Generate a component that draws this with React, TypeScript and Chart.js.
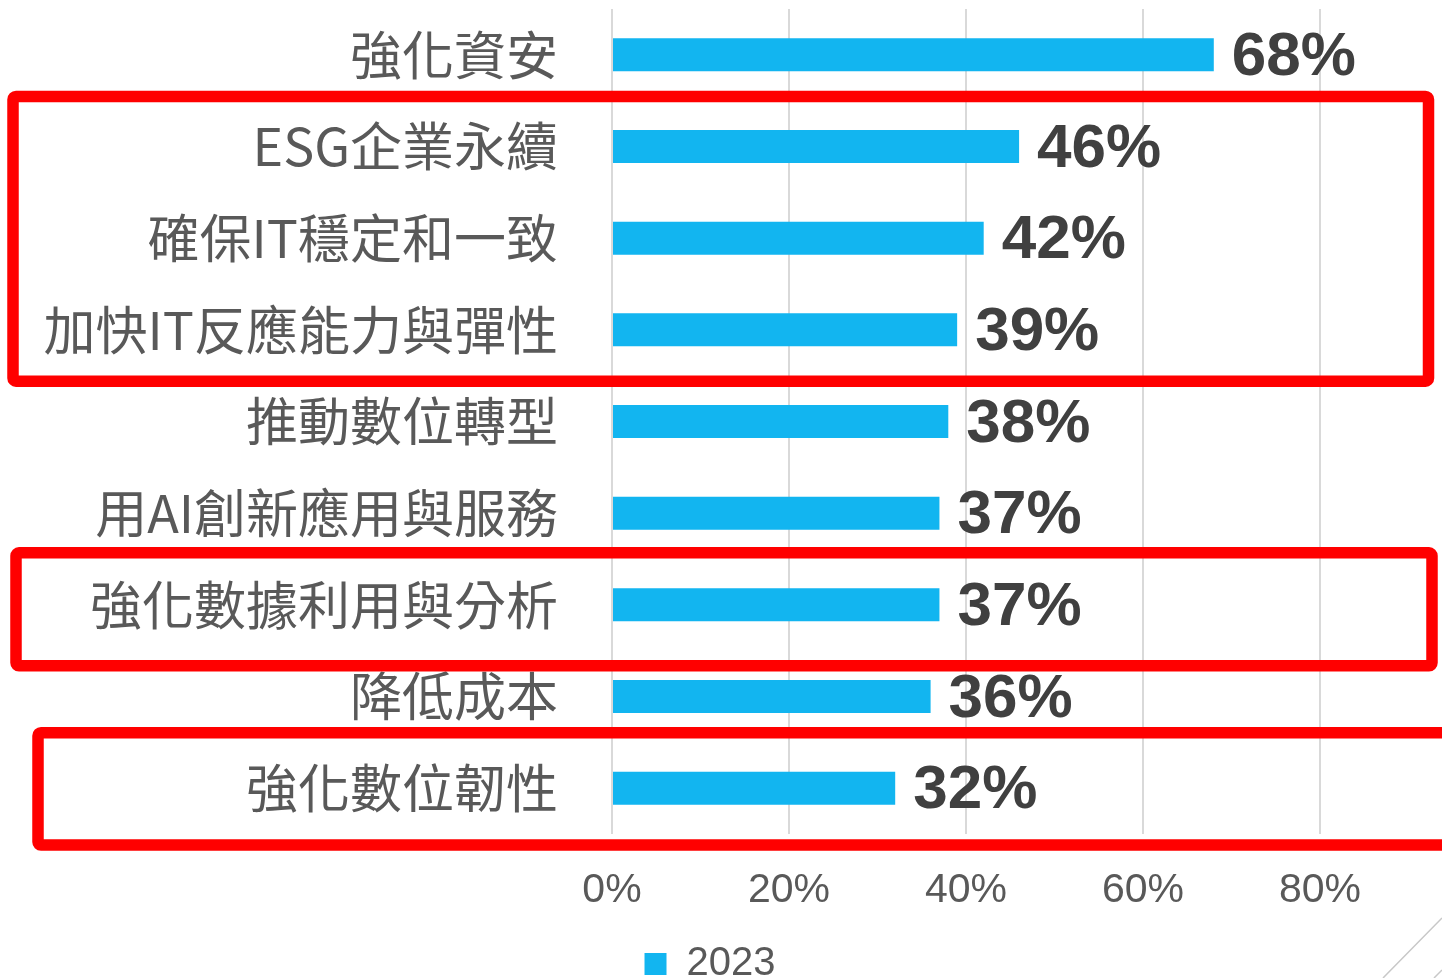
import React, { useEffect, useRef } from 'react';
import { Chart, registerables } from 'chart.js';

Chart.register(...registerables);

// ---- data ----
const categories = [
  '強化資安',
  'ESG企業永續',
  '確保IT穩定和一致',
  '加快IT反應能力與彈性',
  '推動數位轉型',
  '用AI創新應用與服務',
  '強化數據利用與分析',
  '降低成本',
  '強化數位韌性',
];
const values2023 = [68, 46, 42, 39, 38, 37, 37, 36, 32];
const seriesLabel = '2023';
const xTickValues = [0, 20, 40, 60, 80];

// ---- highlight annotations (category index ranges) ----
const highlightBoxes = [
  { first: 1, last: 3, padTop: 0.545, padBottom: 0.56, left: 13, right: 1428.5 },
  { first: 6, last: 6, padTop: 0.567, padBottom: 0.665, left: 16, right: 1432 },
  { first: 8, last: 8, padTop: 0.605, padBottom: 0.62, left: 38, right: 1475 },
];

const BAR_COLOR = '#12B5F0';
const TEXT_GRAY = '#595959';
const LABEL_DARK = '#404040';
const LATIN = "'Liberation Sans', Arial, sans-serif";
const CJK = "'Noto Sans CJK TC', 'Noto Sans', sans-serif";

const valueLabelPlugin = {
  id: 'valueLabels',
  afterDatasetsDraw(chart: any) {
    const ctx = chart.ctx;
    const meta = chart.getDatasetMeta(0);
    const data = chart.data.datasets[0].data;
    ctx.save();
    ctx.fillStyle = LABEL_DARK;
    ctx.font = `bold 62px ${LATIN}`;
    ctx.textAlign = 'left';
    ctx.textBaseline = 'middle';
    meta.data.forEach((bar: any, i: number) => {
      ctx.fillText(`${data[i]}%`, bar.x + 18, bar.y + 3);
    });
    ctx.restore();
  },
};

const highlightPlugin = {
  id: 'highlightBoxes',
  afterDraw(chart: any) {
    const ctx = chart.ctx;
    const y = chart.scales.y;
    const step = y.getPixelForValue(1) - y.getPixelForValue(0);
    ctx.save();
    ctx.strokeStyle = '#FF0000';
    ctx.lineWidth = 11.5;
    ctx.lineJoin = 'round';
    highlightBoxes.forEach((b) => {
      const top = y.getPixelForValue(b.first) - b.padTop * step;
      const bottom = y.getPixelForValue(b.last) + b.padBottom * step;
      ctx.beginPath();
      if ((ctx as any).roundRect) {
        (ctx as any).roundRect(b.left, top, b.right - b.left, bottom - top, 3);
      } else {
        ctx.rect(b.left, top, b.right - b.left, bottom - top);
      }
      ctx.stroke();
    });
    // decorative slide corner lines
    const w = chart.width;
    const h = chart.height;
    ctx.strokeStyle = '#C8C8C8';
    ctx.lineWidth = 1.5;
    ctx.beginPath();
    ctx.moveTo(w - 59, h);
    ctx.lineTo(w, h - 60);
    ctx.moveTo(w - 8, h);
    ctx.lineTo(w, h - 8);
    ctx.stroke();
    ctx.restore();
  },
};

export default function App() {
  const ref = useRef<HTMLCanvasElement | null>(null);

  useEffect(() => {
    if (!ref.current) return;
    const chart = new Chart(ref.current, {
      type: 'bar',
      data: {
        labels: categories,
        datasets: [
          {
            label: seriesLabel,
            data: values2023,
            backgroundColor: BAR_COLOR,
            borderWidth: 0,
            categoryPercentage: 1,
            barPercentage: 0.36,
          },
        ],
      },
      options: {
        indexAxis: 'y',
        animation: false,
        responsive: true,
        maintainAspectRatio: false,
        layout: { padding: { top: 9, right: 22, bottom: -16, left: 0 } },
        plugins: {
          tooltip: { enabled: false },
          legend: {
            position: 'bottom',
            labels: {
              color: TEXT_GRAY,
              font: { family: LATIN, size: 40 },
              boxWidth: 22,
              boxHeight: 22,
              padding: 0,
            },
          },
        },
        scales: {
          x: {
            min: 0,
            max: 91.3,
            afterBuildTicks: (s: any) => {
              s.ticks = xTickValues.map((v) => ({ value: v }));
            },
            afterFit: (s: any) => {
              s.height = 110;
              s.paddingLeft = 0;
              s.paddingRight = 0;
            },
            grid: { color: '#D9D9D9', lineWidth: 2, drawTicks: false },
            border: { display: false },
            ticks: {
              color: TEXT_GRAY,
              font: { family: LATIN, size: 41 },
              padding: 32,
              callback: (v: any) => `${v}%`,
            },
          },
          y: {
            afterFit: (s: any) => {
              s.width = 612;
              s.paddingTop = 0;
              s.paddingBottom = 0;
            },
            grid: { display: false, drawTicks: false },
            border: { display: false },
            ticks: {
              color: TEXT_GRAY,
              font: { family: CJK, size: 52 },
              padding: 54,
            },
          },
        },
      },
      plugins: [valueLabelPlugin, highlightPlugin],
    });
    return () => chart.destroy();
  }, []);

  return (
    <div
      style={{
        position: 'absolute',
        left: 0,
        top: 0,
        width: 1442,
        height: 978,
        overflow: 'hidden',
        background: '#FFFFFF',
      }}
    >
      <canvas ref={ref} />
    </div>
  );
}
